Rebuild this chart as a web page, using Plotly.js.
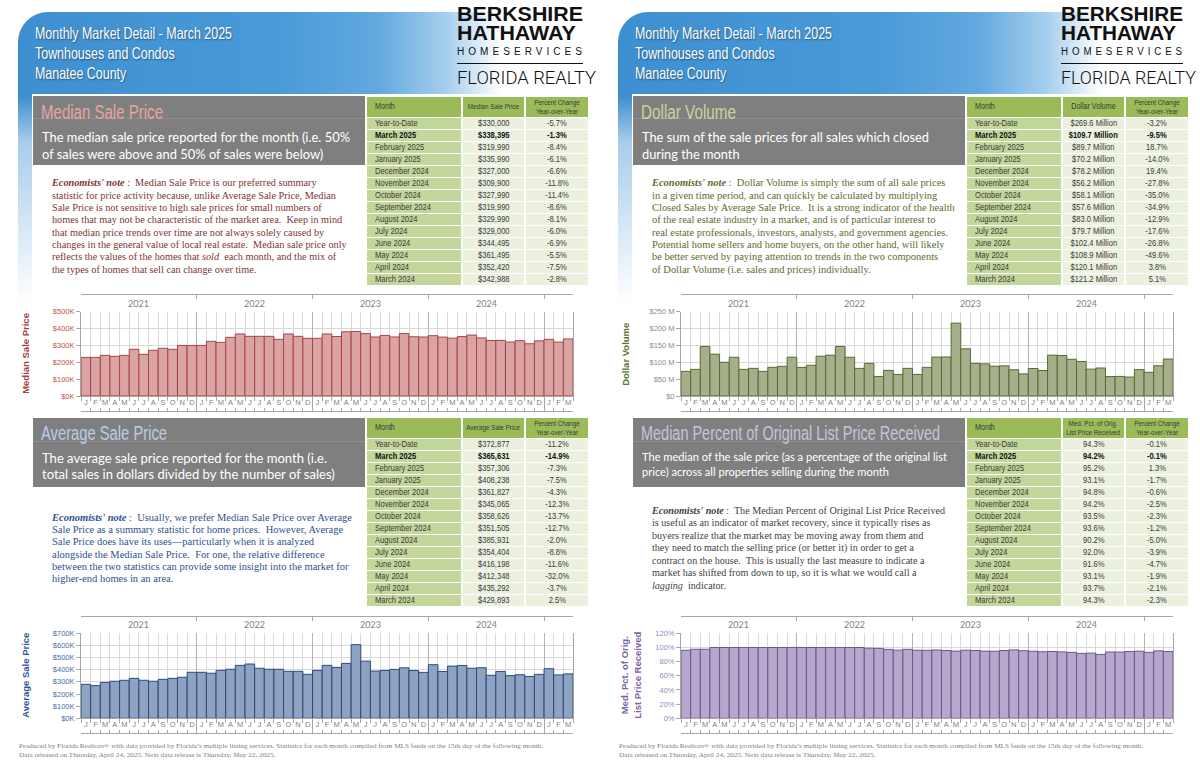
<!DOCTYPE html>
<html><head><meta charset="utf-8">
<script src="https://cdn.plot.ly/plotly-3.0.1.min.js"></script>
<style>
html,body{margin:0;padding:0;width:1200px;height:776px;overflow:hidden;background:#fff;}
#page{position:relative;width:1200px;height:776px;}
.hdr{position:absolute;top:12px;width:582px;height:300px;border-top-left-radius:30px;
 background:linear-gradient(180deg,rgba(255,255,255,0) 0px,rgba(255,255,255,0) 84px,rgba(255,255,255,.55) 130px,#fff 290px),
 linear-gradient(90deg,#3d8fd1 0%,#4a9ad8 45%,#62a9df 62%,#a9d0ee 74%,#fff 83%);}
.white{position:absolute;top:94px;width:566px;height:682px;background:#fff;}
.gray{position:absolute;width:332px;height:69px;background:#7f7f7f;}
.gline{position:absolute;left:0;width:332px;height:1px;background:rgba(255,255,255,0.13);}
.rule{position:absolute;height:1.5px;background:#111;}
#plot{position:absolute;left:0;top:0;width:1200px;height:776px;z-index:2;}
#txt{position:absolute;left:0;top:0;width:1200px;height:776px;z-index:3;pointer-events:none;}
.t{position:absolute;white-space:pre;transform-origin:0 50%;}
.cell{position:absolute;display:flex;align-items:center;overflow:visible;}
.cell span{display:inline-block;white-space:nowrap;font-family:"Liberation Sans",Arial,sans-serif;}
</style></head>
<body><div id="page">
<div class="hdr" style="left:18px"></div><div class="hdr" style="left:618px"></div>
<div class="white" style="left:32px"></div><div class="white" style="left:632px"></div>
<div class="gray" style="left:33px;top:96px"><div class="gline" style="top:22px"></div></div>
<div class="gray" style="left:33px;top:418px"><div class="gline" style="top:23px"></div></div>
<div class="gray" style="left:633px;top:96px"><div class="gline" style="top:22px"></div></div>
<div class="gray" style="left:633px;top:418px"><div class="gline" style="top:23px"></div></div>
<div class="rule" style="left:457px;top:62.5px;width:126px"></div>
<div class="rule" style="left:1061px;top:62.5px;width:122px"></div>
<div id="plot"></div>
<div id="txt"></div>
</div>
<script>
// ---------------- DATA ----------------
const years = ['2021','2022','2023','2024'];
const monthLetters = ['J','F','M','A','M','J','J','A','S','O','N','D',
 'J','F','M','A','M','J','J','A','S','O','N','D',
 'J','F','M','A','M','J','J','A','S','O','N','D',
 'J','F','M','A','M','J','J','A','S','O','N','D',
 'J','F','M'];
// Jan 2021 .. Mar 2025
const medianSalePrice = [229000,229000,241000,235000,241000,277000,247000,271000,283000,277000,300000,300000,
 300000,324000,318000,348000,368000,354000,354000,354000,336000,368000,354000,342000,
 342000,368000,352900,381000,382500,370000,350000,359100,350100,370200,351400,350100,
 357800,349300,342988,352420,361495,344495,329000,329990,319990,327990,309900,327000,
 335990,319990,338395];
const averageSalePrice = [280000,269000,296000,305000,313000,329000,313000,305000,321000,329000,338000,379000,
 379000,371000,395000,404000,436000,447000,412000,404000,404000,387000,387000,362000,
 395000,436000,419400,452000,606400,470800,388600,393800,402600,415600,393500,378100,
 441300,385400,429893,435292,412348,416198,354404,385931,351505,358626,345065,361827,
 408238,357306,365631];
const dollarVolume = [73,79,147,124,100,115,79,82,73,85,88,115,
 85,91,118,121,147,115,82,97,58,76,64,82,
 64,85,115.3,115.7,216.1,139.9,96.7,95.3,88.5,89.4,77.8,65.5,
 81.6,75.6,121.2,120.1,108.9,102.4,79.7,83.0,57.6,58.1,56.2,78.2,
 70.2,89.7,109.7];
const pctOrigList = [96.0,97.5,97.5,100,100,100,100,100,100,100,100,100,
 100,100,100,100,100,100,100,99.0,98.7,97.3,96.2,97.4,
 96.1,96.0,96.5,95.7,94.9,96.1,95.7,94.9,94.7,95.7,96.6,95.4,
 94.7,94.0,94.3,93.7,93.1,91.6,92.0,90.2,93.6,93.5,94.2,94.8,
 93.1,95.2,94.2];

const medianTickVals = [0,100000,200000,300000,400000,500000];
const medianTickText = ['$0K','$100K','$200K','$300K','$400K','$500K'];
const avgTickVals = [0,100000,200000,300000,400000,500000,600000,700000];
const avgTickText = ['$0K','$100K','$200K','$300K','$400K','$500K','$600K','$700K'];
const dvTickVals = [0,50,100,150,200,250];
const dvTickText = ['$0','$50 M','$100 M','$150 M','$200 M','$250 M'];
const pctTickVals = [0,20,40,60,80,100,120];
const pctTickText = ['0%','20%','40%','60%','80%','100%','120%'];

const tableMonths = ['Year-to-Date','March 2025','February 2025','January 2025','December 2024','November 2024','October 2024','September 2024','August 2024','July 2024','June 2024','May 2024','April 2024','March 2024'];
const medianTableVals = ['$330,000','$338,395','$319,990','$335,990','$327,000','$309,900','$327,990','$319,990','$329,990','$329,000','$344,495','$361,495','$352,420','$342,988'];
const medianTablePct = ['-5.7%','-1.3%','-8.4%','-6.1%','-6.6%','-11.8%','-11.4%','-8.6%','-8.1%','-6.0%','-6.9%','-5.5%','-7.5%','-2.8%'];
const avgTableVals = ['$372,877','$365,631','$357,306','$408,238','$361,827','$345,065','$358,626','$351,505','$385,931','$354,404','$416,198','$412,348','$435,292','$429,893'];
const avgTablePct = ['-11.2%','-14.9%','-7.3%','-7.5%','-4.3%','-12.3%','-13.7%','-12.7%','-2.0%','-8.8%','-11.6%','-32.0%','-3.7%','2.5%'];
const dvTableVals = ['$269.6 Million','$109.7 Million','$89.7 Million','$70.2 Million','$78.2 Million','$56.2 Million','$58.1 Million','$57.6 Million','$83.0 Million','$79.7 Million','$102.4 Million','$108.9 Million','$120.1 Million','$121.2 Million'];
const dvTablePct = ['-3.2%','-9.5%','18.7%','-14.0%','19.4%','-27.8%','-35.0%','-34.9%','-12.9%','-17.6%','-26.8%','-49.6%','3.8%','5.1%'];
const pctTableVals = ['94.3%','94.2%','95.2%','93.1%','94.8%','94.2%','93.5%','93.6%','90.2%','92.0%','91.6%','93.1%','93.7%','94.3%'];
const pctTablePct = ['-0.1%','-0.1%','1.3%','-1.7%','-0.6%','-2.5%','-2.3%','-1.2%','-5.0%','-3.9%','-4.7%','-1.9%','-2.1%','-2.3%'];

// ---------------- STYLE ----------------
const NARROW='"Liberation Sans Narrow","Arial Narrow","Liberation Sans",sans-serif';
const SANS='Lato,"Open Sans",sans-serif';
const SERIF='"Liberation Serif","DejaVu Serif",serif';
const ARIAL='"Liberation Sans",Arial,sans-serif';
const AX='#a6a6a6', GRID='#d9d9d9', YGRID='#b5b5b5';
const W=1200,H=776;
const px=x=>x/W, py=y=>1-y/H;

const charts=[
 {values:medianSalePrice, yMax:500000, tickVals:medianTickVals, tickText:medianTickText, x0:81, x1:573, yTop:311.7, yBot:396,
  fill:'#dca3a3', line:'#a2474a', lab:'#c0504d', title:'Median Sale Price', titleColor:'#a3403e', titleX:26},
 {values:averageSalePrice, yMax:700000, tickVals:avgTickVals, tickText:avgTickText, x0:81, x1:573, yTop:633.3, yBot:718.3,
  fill:'#8ea2c2', line:'#2c4a7e', lab:'#4a6ea6', title:'Average Sale Price', titleColor:'#2f5597', titleX:26},
 {values:dollarVolume, yMax:250, tickVals:dvTickVals, tickText:dvTickText, x0:681, x1:1173, yTop:311.7, yBot:396,
  fill:'#a6af8c', line:'#556b2f', lab:'#8c8c8c', title:'Dollar Volume', titleColor:'#5f7530', titleX:626},
 {values:pctOrigList, yMax:120, tickVals:pctTickVals, tickText:pctTickText, x0:681, x1:1173, yTop:633.3, yBot:718.3,
  fill:'#b6a8cc', line:'#6b5590', lab:'#9b88c0', title:'Med. Pct. of Orig.<br>List Price Received', titleColor:'#7b63a8', titleX:631}
];

const layout={width:W,height:H,margin:{l:0,r:0,t:0,b:0},paper_bgcolor:'rgba(0,0,0,0)',plot_bgcolor:'#ffffff',
 showlegend:false,font:{family:ARIAL,size:9,color:'#595959'},annotations:[],hovermode:false};
const data=[];

charts.forEach((c,k)=>{
 const b=k*5+1, yi=k+1;
 const X=n=>n===1?'x':'x'+n, XA=n=>'xaxis'+(n===1?'':n);
 const Y=yi===1?'y':'y'+yi, YA='yaxis'+(yi===1?'':yi);
 const n=c.values.length, rng=[-0.5,n-0.5];
 const idx=c.values.map((_,i)=>i);
 const bounds=[]; for(let i=0;i<=n;i++) bounds.push(i-0.5);
 const yb=years.map((_,i)=>(i+1)*12-0.5);
 const common={range:rng,fixedrange:true,zeroline:false,tickmode:'array'};
 layout[XA(b)]={...common,domain:[px(c.x0),px(c.x1)],anchor:Y,tickvals:bounds,showticklabels:false,ticks:'outside',ticklen:4,tickcolor:AX,
  showgrid:true,gridcolor:GRID,showline:true,linecolor:AX,linewidth:1};
 layout[XA(b+1)]={...common,overlaying:X(b),anchor:Y,tickvals:idx,ticktext:monthLetters,ticks:'',showgrid:false,showline:false,
  tickfont:{family:ARIAL,size:7.5,color:'#7f7f7f'}};
 layout[XA(b+2)]={...common,overlaying:X(b),anchor:Y,tickvals:yb,showticklabels:false,ticks:'outside',ticklen:14,tickcolor:AX,
  showgrid:true,gridcolor:YGRID,showline:false};
 const topVals=[-0.5,...yb,n-0.5];
 layout[XA(b+3)]={...common,overlaying:X(b),anchor:'free',position:py(c.yTop-17.7),side:'top',tickvals:topVals,showticklabels:false,
  ticks:'inside',ticklen:4,tickcolor:AX,showgrid:false,showline:true,linecolor:AX};
 layout[XA(b+4)]={...common,overlaying:X(b),anchor:'free',position:py(c.yBot+15),side:'bottom',tickvals:bounds,showticklabels:false,
  ticks:'inside',ticklen:3,tickcolor:AX,showgrid:false,showline:true,linecolor:AX};
 layout[YA]={domain:[py(c.yBot),py(c.yTop)],anchor:X(b),range:[0,c.yMax],fixedrange:true,tickmode:'array',tickvals:c.tickVals,ticktext:c.tickText,
  ticks:'outside',ticklen:4,tickcolor:AX,showgrid:true,gridcolor:GRID,showline:true,linecolor:AX,mirror:true,zeroline:false,
  tickfont:{family:ARIAL,size:7.5,color:c.lab}};
 data.push({type:'bar',x:idx,y:c.values,xaxis:X(b),yaxis:Y,width:1,marker:{color:c.fill,line:{color:c.line,width:1}},hoverinfo:'skip'});
 for(let j=1;j<=4;j++) data.push({type:'scatter',mode:'markers',x:[],y:[],xaxis:X(b+j),yaxis:Y,hoverinfo:'skip'});
 years.forEach((yr,i)=>layout.annotations.push({xref:X(b),yref:'paper',x:i*12+5.5,y:py(c.yTop-8.5),text:yr,showarrow:false,
  xanchor:'center',yanchor:'middle',font:{family:SANS,size:9,color:'#7f7f7f'}}));
 layout.annotations.push({xref:'paper',yref:'paper',x:px(c.titleX),y:py((c.yTop+c.yBot)/2),text:'<b>'+c.title+'</b>',textangle:-90,
  showarrow:false,xanchor:'center',yanchor:'middle',font:{family:ARIAL,size:9.5,color:c.titleColor}});
});

Plotly.newPlot('plot',data,layout,{staticPlot:true,displayModeBar:false});

// ---------------- TEXT ----------------
const layer=document.getElementById('txt');
const fits=[];
function txt(x,y,html,o){
 const d=document.createElement('div');d.className='t';
 const lh=o.lh||Math.round(o.size*1.3), nl=o.nl||1;
 d.style.left=x+'px';d.style.top=(y-lh*nl/2)+'px';d.style.lineHeight=lh+'px';d.style.height=(lh*nl)+'px';
 d.style.fontSize=o.size+'px';d.style.fontFamily=o.family;d.style.color=o.color;
 if(o.weight)d.style.fontWeight=o.weight;if(o.shadow)d.style.textShadow=o.shadow;if(o.ls)d.style.letterSpacing=o.ls+'px';
 d.innerHTML=html;layer.appendChild(d);return d;
}
function block(x,ys,lines,o,ref,width){
 const els=lines.map((l,i)=>txt(x,ys[i],l,o));
 fits.push({els,ref,width});return els;
}
const headerLines=['Monthly Market Detail - March 2025','Townhouses and Condos','Manatee County'];
const footerLines=['Produced by Florida Realtors® with data provided by Florida\u2019s multiple listing services. Statistics for each month compiled from MLS feeds on the 15th day of the following month.',
 'Data released on Thursday, April 24, 2025. Next data release is Thursday, May 22, 2025.'];
[0,600].forEach((ox,pi)=>{
 block(ox+35,[33,53,73],headerLines,{size:16.5,family:NARROW,color:'#fff',shadow:'1px 1px 2px rgba(0,0,0,0.45)',lh:19},0,197);
 const lx=pi===0?457:1061, lw=pi===0?126:122;
 block(lx,[23],['BERKSHIRE\nHATHAWAY'],{size:21,family:ARIAL,color:'#111',weight:'bold',lh:19,nl:2},0,lw);
 block(lx,[51.5],['HOMESERVICES'],{size:10,family:ARIAL,color:'#111',ls:4,lh:11},0,lw+3);
 block(lx,[78],['FLORIDA REALTY'],{size:19,family:'Roboto,'+ARIAL,color:'#111',weight:300,lh:20},0,pi===0?139:135);
 block(ox+19,[746,755],footerLines,{size:7,family:SERIF,color:'#808080',lh:9},0,524);
});

const sections=[
 {ox:0,top:true,title:'Median Sale Price',tc:'#e8a3a3',tw:122,
  desc:['The median sale price reported for the month (i.e. 50%','of sales were above and 50% of sales were below)'],dw:308,ds:13.5,dy:[137.3,154],
  nc:'#7d3535',ny0:183.3,ndy:12.35,nref:1,nw:284,
  note:['<b><i>Economists\' note</i></b> :  Median Sale Price is our preferred summary',
   'statistic for price activity because, unlike Average Sale Price, Median',
   'Sale Price is not sensitive to high sale prices for small numbers of',
   'homes that may not be characteristic of the market area.  Keep in mind',
   'that median price trends over time are not always solely caused by',
   'changes in the general value of local real estate.  Median sale price only',
   'reflects the values of the homes that <i>sold</i>  each month, and the mix of',
   'the types of homes that sell can change over time.']},
 {ox:0,title:'Average Sale Price',tc:'#b9cde5',tw:126,
  desc:['The average sale price reported for the month (i.e.','total sales in dollars divided by the number of sales)'],dw:285,ds:13.5,dy:[458.3,474.3],
  nc:'#2e5090',ny0:517.7,ndy:12.27,nref:4,nw:296.5,
  note:['<b><i>Economists\' note</i></b> :  Usually, we prefer Median Sale Price over Average',
   'Sale Price as a summary statistic for home prices.  However, Average',
   'Sale Price does have its uses\u2014particularly when it is analyzed',
   'alongside the Median Sale Price.  For one, the relative difference',
   'between the two statistics can provide some insight into the market for',
   'higher-end homes in an area.']},
 {ox:600,top:true,title:'Dollar Volume',tc:'#c4d79b',tw:95,
  desc:['The sum of the sale prices for all sales which closed','during the month'],dw:287,ds:13.5,dy:[137.3,154],
  nc:'#5b6d2c',ny0:183.3,ndy:12.35,nref:4,nw:296,
  note:['<b><i>Economists\' note</i></b> :  Dollar Volume is simply the sum of all sale prices',
   'in a given time period, and can quickly be calculated by multiplying',
   'Closed Sales by Average Sale Price.  It is a strong indicator of the health',
   'of the real estate industry in a market, and is of particular interest to',
   'real estate professionals, investors, analysts, and government agencies.',
   'Potential home sellers and home buyers, on the other hand, will likely',
   'be better served by paying attention to trends in the two components',
   'of Dollar Volume (i.e. sales and prices) individually.']},
 {ox:600,title:'Median Percent of Original List Price Received',tc:'#ccc1da',tw:299,
  desc:['The median of the sale price (as a percentage of the original list','price) across all properties selling during the month'],dw:305,ds:12,dy:[456.7,471],
  nc:'#3f3f3f',ny0:511,ndy:12.45,nref:0,nw:293,
  note:['<b><i>Economists\' note</i></b> :  The Median Percent of Original List Price Received',
   'is useful as an indicator of market recovery, since it typically rises as',
   'buyers realize that the market may be moving away from them and',
   'they need to match the selling price (or better it) in order to get a',
   'contract on the house.  This is usually the last measure to indicate a',
   'market has shifted from down to up, so it is what we would call a',
   '<i>lagging</i>  indicator.']}
];
sections.forEach(s=>{
 const ty=s.top?111.7:433.3;
 block(s.ox+41,[ty],[s.title],{size:20,family:NARROW,color:s.tc,lh:24},0,s.tw);
 block(s.ox+41.5,s.dy,s.desc,{size:s.ds,family:SANS,color:'#fff',lh:15},0,s.dw);
 block(s.ox+52,s.note.map((_,i)=>s.ny0+i*s.ndy),s.note,{size:10.5,family:SERIF,color:s.nc,lh:12},s.nref,s.nw);
});

// ---------------- TABLES ----------------
const HDRG='#9bbb59', MONG='#c4d79b', VALG='#ebf1de';
const tcols=[{dx:1,w:94,al:'left',bg:MONG},{dx:97,w:61,al:'center',bg:VALG},{dx:160,w:62,al:'center',bg:VALG}];
const tables=[
 {x0:366,y0:97,cols:[tableMonths,medianTableVals,medianTablePct],hdr:['Month','Median Sale Price','Percent Change<br>Year-over-Year'],hs:[8.5,7.5,7.5]},
 {x0:366,y0:418,cols:[tableMonths,avgTableVals,avgTablePct],hdr:['Month','Average Sale Price','Percent Change<br>Year-over-Year'],hs:[8.5,7.5,7.5]},
 {x0:966,y0:97,cols:[tableMonths,dvTableVals,dvTablePct],hdr:['Month','Dollar Volume','Percent Change<br>Year-over-Year'],hs:[8.5,8.5,7.5]},
 {x0:966,y0:418,cols:[tableMonths,pctTableVals,pctTablePct],hdr:['Month','Med. Pct. of Orig.<br>List Price Received','Percent Change<br>Year-over-Year'],hs:[8.5,7.5,7.5]}
];
function cell(x,y,w,h,bg,html,size,al,bold,lh){
 const d=document.createElement('div');d.className='cell';
 d.style.cssText+=`left:${x}px;top:${y}px;width:${w}px;height:${h}px;background:${bg};justify-content:${al==='left'?'flex-start':'center'};`+(al==='left'?'padding-left:8px;box-sizing:border-box;':'');
 const s=document.createElement('span');
 s.style.cssText=`font-size:${size}px;line-height:${lh}px;color:${bold?'#111':'#3a3a3a'};font-weight:${bold?'bold':'normal'};text-align:center;transform:scaleX(0.84);transform-origin:${al==='left'?'0 50%':'50% 50%'};`;
 s.innerHTML=html;d.appendChild(s);layer.appendChild(d);
}
tables.forEach(t=>{
 t.hdr.forEach((h,c)=>cell(t.x0+tcols[c].dx,t.y0,tcols[c].w,20,HDRG,h,t.hs[c],tcols[c].al,false,9.5));
 t.cols.forEach((col,c)=>col.forEach((v,r)=>cell(t.x0+tcols[c].dx,t.y0+21+r*12,tcols[c].w,11,tcols[c].bg,v,9,tcols[c].al,r===1,11)));
});

function applyFits(){
 fits.forEach(f=>{
  f.els.forEach(e=>e.style.transform='none');
  const w=f.els[f.ref].getBoundingClientRect().width;
  if(w>0){const s=f.width/w;f.els.forEach(e=>e.style.transform='scaleX('+s+')');}
 });
}
applyFits();
if(document.fonts&&document.fonts.ready)document.fonts.ready.then(applyFits);
</script>
</body></html>
